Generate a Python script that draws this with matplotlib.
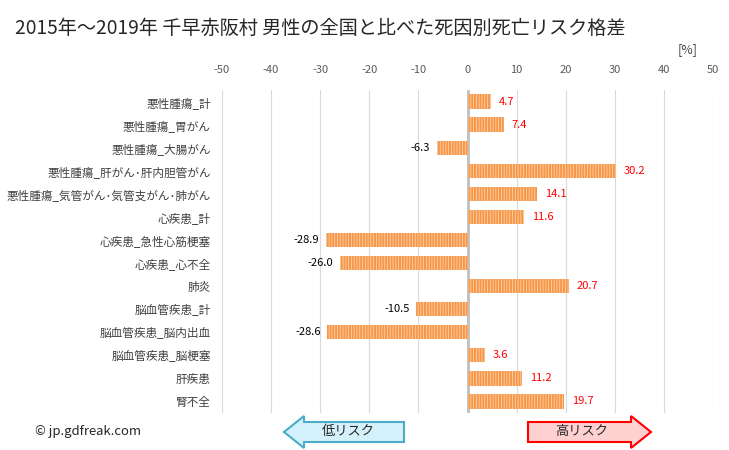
import numpy as np
import matplotlib
matplotlib.use("Agg")
import matplotlib.pyplot as plt
from matplotlib.patches import Polygon

plt.rcParams['font.family'] = ['Noto Sans CJK JP', 'DejaVu Sans']
plt.rcParams['hatch.linewidth'] = 0.6

title = "2015年～2019年 千早赤阪村 男性の全国と比べた死因別死亡リスク格差"
causes = ["悪性腫瘍_計", "悪性腫瘍_胃がん", "悪性腫瘍_大腸がん", "悪性腫瘍_肝がん･肝内胆管がん",
          "悪性腫瘍_気管がん･気管支がん･肺がん", "心疾患_計", "心疾患_急性心筋梗塞", "心疾患_心不全",
          "肺炎", "脳血管疾患_計", "脳血管疾患_脳内出血", "脳血管疾患_脳梗塞", "肝疾患", "腎不全"]
values = [4.7, 7.4, -6.3, 30.2, 14.1, 11.6, -28.9, -26.0, 20.7, -10.5, -28.6, 3.6, 11.2, 19.7]
xticks = [-50, -40, -30, -20, -10, 0, 10, 20, 30, 40, 50]

fig = plt.figure(figsize=(7.29, 4.5), dpi=100)
ax = fig.add_axes([222 / 729, 1 - 413 / 450, (713 - 222) / 729, (413 - 90) / 450])

y = np.arange(len(causes))
ax.barh(y, values, height=0.62, color='#F79646', edgecolor='#FCD3AE', hatch='||||||', linewidth=0, zorder=3)

for yi, v in zip(y, values):
    if v >= 0:
        ax.text(v + 1.6, yi, f"{v:.1f}", color='red', fontsize=8, va='center', ha='left', zorder=4)
    else:
        ax.text(v - 1.3, yi, f"{v:.1f}", color='black', fontsize=8, va='center', ha='right', zorder=4)

ax.set_xlim(-50, 50)
ax.set_ylim(len(causes) - 0.5, -0.5)
ax.set_xticks(xticks)
ax.set_xticklabels([str(t) for t in xticks])
ax.xaxis.tick_top()
ax.tick_params(axis='x', length=0, labelsize=8, labelcolor='#595959', pad=11)
ax.set_yticks(y)
ax.set_yticklabels(causes)
ax.tick_params(axis='y', length=0, labelsize=8.4, labelcolor='#404040', pad=8)
for s in ax.spines.values():
    s.set_visible(False)
ax.grid(axis='x', color='#D9D9D9', linewidth=0.8, zorder=0)
ax.axvline(0, color='#BFBFBF', linewidth=2, zorder=2)

# overlay for annotations in pixel coords
ov = fig.add_axes([0, 0, 1, 1])
ov.set_xlim(0, 729)
ov.set_ylim(450, 0)
ov.axis('off')

ov.text(15, 28, title, fontsize=13.8, color='#262626', va='center', ha='left')
ov.text(688, 50, "[%]", fontsize=9, color='#404040', va='center', ha='center')
ov.text(35, 432, "© jp.gdfreak.com", fontsize=9.4, color='#262626', va='center', ha='left')

left_arrow = [(284, 432), (304, 416), (304, 422), (404, 422), (404, 442), (304, 442), (304, 448)]
right_arrow = [(651, 432), (631, 416), (631, 422), (528, 422), (528, 442), (631, 442), (631, 448)]
ov.add_patch(Polygon(left_arrow, closed=True, facecolor='#D4F0FA', edgecolor='#4BACC6', linewidth=1.5))
ov.add_patch(Polygon(right_arrow, closed=True, facecolor='#FFD0D0', edgecolor='#FF0000', linewidth=1.5))
ov.text(348, 431, "低リスク", fontsize=9.5, color='#262626', va='center', ha='center')
ov.text(582, 431, "高リスク", fontsize=9.5, color='#262626', va='center', ha='center')

fig.savefig("out.png", dpi=100)
